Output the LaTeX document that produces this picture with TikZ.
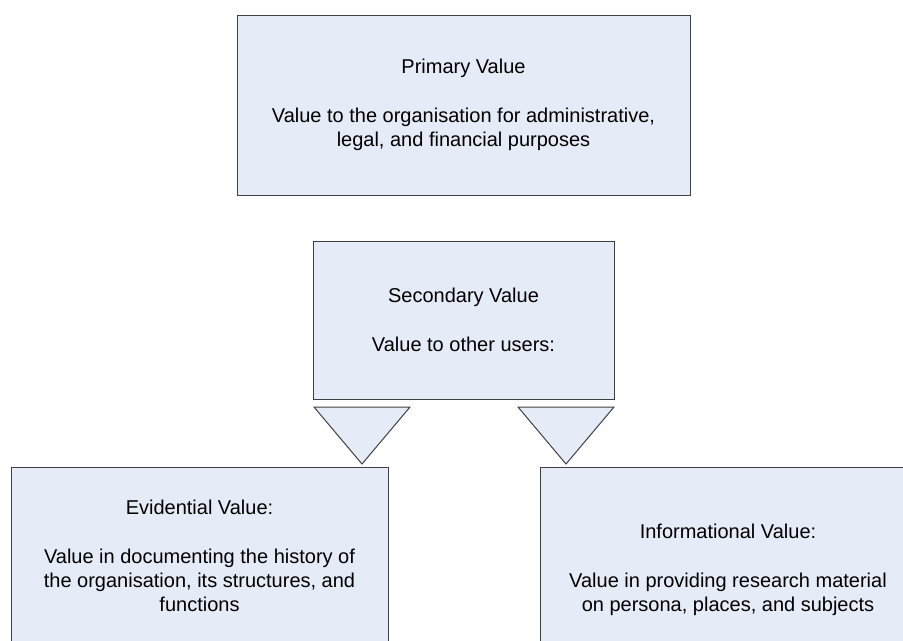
\documentclass[tikz,border=0pt]{standalone}
\usepackage{fontspec}
\setmainfont{Liberation Sans}
\usepackage{xcolor}

\definecolor{boxfill}{RGB}{230,236,247}
\definecolor{boxline}{RGB}{64,64,64}

\tikzset{
    valbox/.style={draw=boxline, fill=boxfill, line width=0.75pt, align=center,
        inner sep=0pt, font=\fontsize{15}{18}\selectfont},
    valtri/.style={draw=boxline, fill=boxfill, line width=0.75pt, line join=miter}
}

\begin{document}
\begin{tikzpicture}[x=0.75pt, y=-0.75pt]
        \useasboundingbox (0, 0) rectangle (903, 640);
        \clip (0, 0) rectangle (903, 640);

        % top level
        \node[valbox, minimum width=339.75pt, minimum height=135pt] (primary) at (463.5, 105)
            {Primary Value\\[19pt]Value to the organisation for administrative,\\legal, and financial purposes};

        \node[valbox, minimum width=225.75pt, minimum height=118.5pt] (secondary) at (463.5, 320)
            {Secondary Value\\[19pt]Value to other users:};

        % the two kinds of secondary value (boxes run off the page)
        \node[valbox, minimum width=282.75pt, minimum height=133.5pt] (evidential) at (199.5, 556)
            {Evidential Value:\\[19pt]Value in documenting the history of\\the organisation, its structures, and\\functions};

        \node[valbox, minimum width=282pt, minimum height=154.5pt] (informational) at (728, 570)
            {Informational Value:\\[19pt]Value in providing research material\\on persona, places, and subjects};

        % pointers down
        \draw[valtri] (314, 407) -- (410, 407) -- (362, 464) -- cycle;
        \draw[valtri] (518, 407) -- (614, 407) -- (566, 464) -- cycle;
    \end{tikzpicture}
\end{document}
